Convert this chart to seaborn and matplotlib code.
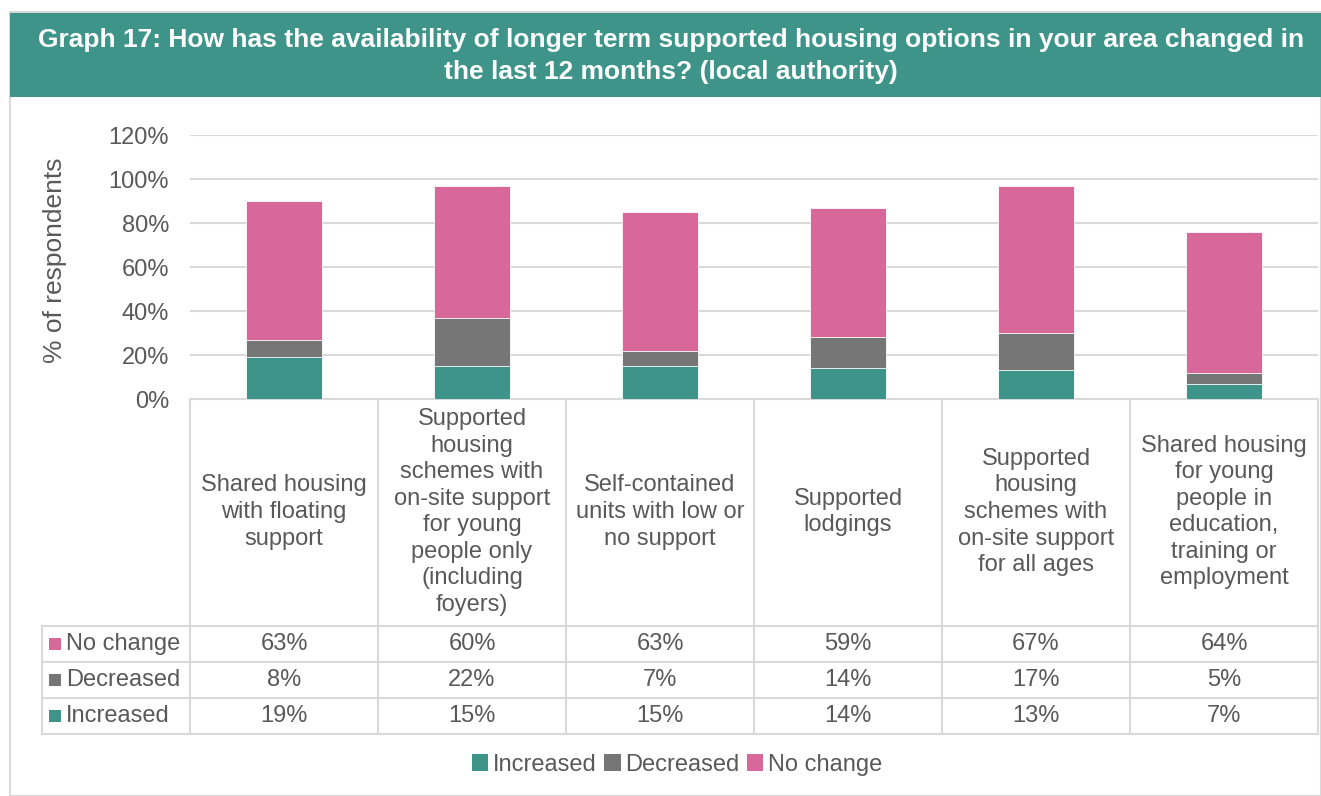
import numpy as np
import pandas as pd
import seaborn as sns
import matplotlib.pyplot as plt
import matplotlib.transforms as mtransforms
from matplotlib.patches import Patch, Rectangle
from matplotlib.lines import Line2D

# ====================================================
# DATA
# ====================================================

categories = [
    "Shared housing\nwith floating\nsupport",
    "Supported\nhousing\nschemes with\non-site support\nfor young\npeople only\n(including\nfoyers)",
    "Self-contained\nunits with low or\nno support",
    "Supported\nlodgings",
    "Supported\nhousing\nschemes with\non-site support\nfor all ages",
    "Shared housing\nfor young\npeople in\neducation,\ntraining or\nemployment",
]

increased = [19, 15, 15, 14, 13, 7]
decreased = [8, 22, 7, 14, 17, 5]
no_change = [63, 60, 63, 59, 67, 64]

series_names = ["Increased", "Decreased", "No change"]
y_ticks = [0, 20, 40, 60, 80, 100, 120]

# ====================================================
# STYLE
# ====================================================

TEAL = "#3E9489"
GREY = "#767676"
PINK = "#D9689A"
GRID = "#D9D9D9"
TEXT = "#595959"
FS = 17

sns.set_style("white")
plt.rcParams["font.family"] = ["Liberation Sans", "DejaVu Sans"]

W, H = 1321, 796


def fx(px):
    return px / W


def fy(py):
    return 1 - py / H


df = pd.DataFrame({
    "key": [f"c{i}" for i in range(len(categories))],
    "Increased": increased,
    "Decreased": decreased,
    "No change": no_change,
})
df["inc_top"] = df["Increased"] / 100
df["dec_top"] = (df["Increased"] + df["Decreased"]) / 100
df["all_top"] = (df["Increased"] + df["Decreased"] + df["No change"]) / 100

fig = plt.figure(figsize=(W / 100, H / 100), dpi=100)

# outer frame + title banner
fig.patches.append(Rectangle((fx(10), 0), 1 - fx(10), fy(12), transform=fig.transFigure,
                             facecolor="white", edgecolor=GRID, lw=1.5, zorder=-2))
fig.patches.append(Rectangle((fx(10), fy(97)), 1 - fx(10), (97 - 13) / H,
                             transform=fig.transFigure, facecolor=TEAL,
                             edgecolor="none", zorder=-1))
fig.text(fx(671), fy(56),
         "Graph 17: How has the availability of longer term supported housing options in your area changed in\nthe last 12 months? (local authority)",
         ha="center", va="center", color="white", fontsize=19, fontweight="bold",
         linespacing=1.38)

# ====================================================
# STACKED BARS
# ====================================================

ax = fig.add_axes([fx(190), fy(399), fx(1318) - fx(190), (399 - 135) / H])
ax.set_zorder(2)
ax.patch.set_alpha(0)

sns.barplot(data=df, x="key", y="all_top", color=PINK, width=0.4,
            saturation=1, errorbar=None, ax=ax, zorder=3)
sns.barplot(data=df, x="key", y="dec_top", color=GREY, width=0.4,
            saturation=1, errorbar=None, ax=ax, zorder=3)
sns.barplot(data=df, x="key", y="inc_top", color=TEAL, width=0.4,
            saturation=1, errorbar=None, ax=ax, zorder=3)

for bar in ax.patches:
    bar.set_edgecolor("white")
    bar.set_linewidth(0.6)

ax.set_xlim(-0.5, len(categories) - 0.5)
ax.set_ylim(0, 1.2)
ax.set_yticks([t / 100 for t in y_ticks])
ax.set_yticklabels([f"{t}%" for t in y_ticks], color=TEXT, fontsize=FS)
ax.tick_params(axis="y", length=0, pad=15)
ax.set_xticks([])
ax.set_xlabel("")
ax.set_ylabel("")
ax.grid(axis="y", color=GRID, lw=1.5, zorder=0)
ax.set_axisbelow(True)
for s in ax.spines.values():
    s.set_visible(False)

fig.text(fx(55), fy(260), "% of respondents", rotation=90, ha="center",
         va="center", color=TEXT, fontsize=19)

# ====================================================
# DATA TABLE
# ====================================================

trans = mtransforms.blended_transform_factory(ax.transData, fig.transFigure)
n = len(categories)
row_edges = [399, 626, 662, 698, 734]
line_kw = dict(color=GRID, lw=1.5, clip_on=False)

# horizontal lines
fig.add_artist(Line2D([fx(190), fx(1318)], [fy(399), fy(399)], transform=fig.transFigure, **line_kw))
for py in row_edges[1:]:
    fig.add_artist(Line2D([fx(42), fx(1318)], [fy(py), fy(py)], transform=fig.transFigure, **line_kw))

# vertical lines
fig.add_artist(Line2D([fx(42), fx(42)], [fy(626), fy(734)], transform=fig.transFigure, **line_kw))
for i in range(n + 1):
    xb = i - 0.5
    fig.add_artist(Line2D([xb, xb], [fy(399), fy(734)], transform=trans, **line_kw))

# category labels
for i, label in enumerate(categories):
    ax.text(i, fy(512), label, transform=trans, ha="center", va="center",
            color=TEXT, fontsize=FS, linespacing=1.27, clip_on=False)

table_rows = [("No change", no_change, PINK),
              ("Decreased", decreased, GREY),
              ("Increased", increased, TEAL)]

for r, (name, vals, col) in enumerate(table_rows):
    yc = (row_edges[r + 1] + row_edges[r + 2]) / 2
    fig.patches.append(Rectangle((fx(49), fy(yc + 6)), 12 / W, 12 / H,
                                 transform=fig.transFigure, facecolor=col,
                                 edgecolor="none"))
    fig.text(fx(66), fy(yc), name, ha="left", va="center", color=TEXT, fontsize=FS)
    for i, v in enumerate(vals):
        ax.text(i, fy(yc), f"{v}%", transform=trans, ha="center", va="center",
                color=TEXT, fontsize=FS, clip_on=False)

# ====================================================
# LEGEND
# ====================================================

handles = [Patch(facecolor=c, edgecolor="none") for c in [TEAL, GREY, PINK]]
fig.legend(handles, series_names, loc="center", bbox_to_anchor=(fx(677), fy(765)),
           ncol=3, frameon=False, fontsize=FS, handlelength=0.7, handleheight=0.7,
           handletextpad=0.2, columnspacing=0.3, labelcolor=TEXT)

plt.savefig("out.png", dpi=100)
